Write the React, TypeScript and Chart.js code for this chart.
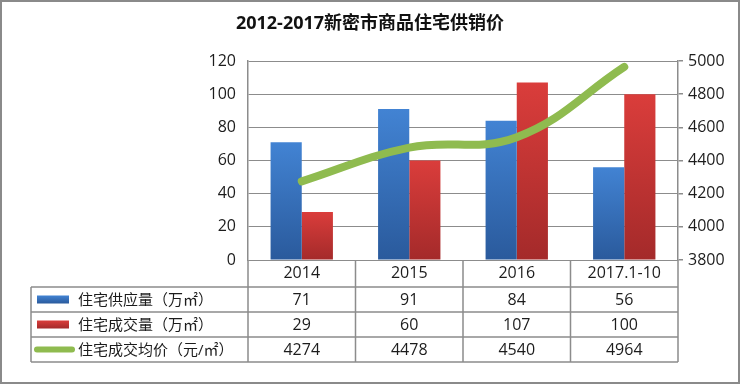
import React, { useEffect, useRef } from "react";
import { Chart, registerables } from "chart.js";

Chart.register(...registerables);

const TITLE = "2012-2017新密市商品住宅供销价";
const categories = ["2014", "2015", "2016", "2017.1-10"];
const supply = [71, 91, 84, 56];
const deals = [29, 60, 107, 100];
const price = [4274, 4478, 4540, 4964];
const seriesNames = ["住宅供应量（万㎡）", "住宅成交量（万㎡）", "住宅成交均价（元/㎡）"];

const FONT = '"Open Sans", "Noto Sans CJK SC", sans-serif';
const GRID = "#8c8c8c";
const TEXT = "#1c1c1c";
const BLUE_TOP = "#4283d3";
const BLUE_BOT = "#2a5a9c";
const RED_TOP = "#da3d3b";
const RED_BOT = "#a42a2a";
const GREEN = "#8fbb4f";

function barGradient(top: string, bot: string) {
  return (c: any) => {
    const chart = c.chart;
    const ys = chart.scales && chart.scales.y;
    if (!ys || c.raw === undefined || !chart.chartArea) return top;
    const y0 = ys.getPixelForValue(0);
    const y1 = ys.getPixelForValue(c.raw);
    if (!isFinite(y0) || !isFinite(y1) || y0 === y1) return top;
    const g = chart.ctx.createLinearGradient(0, y1, 0, y0);
    g.addColorStop(0, top);
    g.addColorStop(1, bot);
    return g;
  };
}

const tablePlugin = {
  id: "dataTable",
  afterDraw(chart: any) {
    const { ctx, chartArea, scales } = chart;
    const xs = scales.x;
    const left = chartArea.left;
    const right = chartArea.right;
    const headTop = chartArea.bottom;
    const headH = 27;
    const rowH = 25;
    const tableLeft = 31;
    const n = categories.length;
    const cw = (right - left) / n;
    const rowsTop = headTop + headH;
    const bottom = rowsTop + rowH * 3;

    ctx.save();
    ctx.strokeStyle = GRID;
    ctx.lineWidth = 1.5;
    ctx.beginPath();
    for (let r = 0; r <= 3; r++) {
      const y = rowsTop + r * rowH;
      ctx.moveTo(tableLeft, y);
      ctx.lineTo(right, y);
    }
    ctx.moveTo(tableLeft, rowsTop);
    ctx.lineTo(tableLeft, bottom);
    for (let i = 0; i <= n; i++) {
      const x = left + i * cw;
      ctx.moveTo(x, headTop);
      ctx.lineTo(x, bottom);
    }
    ctx.stroke();

    const rows = [supply, deals, price];
    ctx.fillStyle = TEXT;
    ctx.font = `16px ${FONT}`;
    ctx.textAlign = "center";
    ctx.textBaseline = "middle";
    rows.forEach((vals, r) => {
      const y = rowsTop + r * rowH + rowH / 2 + 1;
      vals.forEach((v, i) => {
        ctx.fillText(String(v), xs.getPixelForValue(i), y);
      });
    });

    ctx.textAlign = "left";
    ctx.font = `15px ${FONT}`;
    seriesNames.forEach((name, r) => {
      const yc = rowsTop + r * rowH + rowH / 2;
      if (r < 2) {
        const g = ctx.createLinearGradient(0, yc - 4, 0, yc + 4);
        g.addColorStop(0, r === 0 ? BLUE_TOP : RED_TOP);
        g.addColorStop(1, r === 0 ? BLUE_BOT : RED_BOT);
        ctx.fillStyle = g;
        ctx.fillRect(37, yc - 4, 32, 8);
      } else {
        ctx.strokeStyle = GREEN;
        ctx.lineWidth = 6;
        ctx.lineCap = "round";
        ctx.beginPath();
        ctx.moveTo(37, yc);
        ctx.lineTo(72, yc);
        ctx.stroke();
      }
      ctx.fillStyle = TEXT;
      ctx.fillText(name, 78, yc + 1);
    });

    ctx.strokeStyle = "#8a8a8a";
    ctx.lineWidth = 2;
    ctx.strokeRect(1, 1, chart.width - 2, chart.height - 2);
    ctx.restore();
  },
};

export default function App() {
  const ref = useRef<HTMLCanvasElement>(null);
  useEffect(() => {
    if (!ref.current) return;
    const chart = new Chart(ref.current, {
      type: "bar",
      data: {
        labels: categories,
        datasets: [
          {
            type: "line",
            label: seriesNames[2],
            data: price,
            yAxisID: "y1",
            borderColor: GREEN,
            backgroundColor: GREEN,
            borderWidth: 8,
            borderCapStyle: "round",
            borderJoinStyle: "round",
            pointRadius: 0,
            tension: 0.4,
            order: 0,
          } as any,
          {
            type: "bar",
            label: seriesNames[0],
            data: supply,
            yAxisID: "y",
            backgroundColor: barGradient(BLUE_TOP, BLUE_BOT),
            categoryPercentage: 0.58,
            barPercentage: 1,
            order: 1,
          },
          {
            type: "bar",
            label: seriesNames[1],
            data: deals,
            yAxisID: "y",
            backgroundColor: barGradient(RED_TOP, RED_BOT),
            categoryPercentage: 0.58,
            barPercentage: 1,
            order: 1,
          },
        ],
      },
      options: {
        responsive: false,
        animation: false,
        layout: { padding: { left: 0, right: 0, top: 0, bottom: 97 } },
        plugins: {
          legend: { display: false },
          tooltip: { enabled: false },
          title: {
            display: true,
            text: TITLE,
            color: "#111",
            font: { family: FONT, size: 18, weight: "bold", lineHeight: 1.2 },
            padding: { top: 13, bottom: 26.4 },
          },
        },
        scales: {
          x: {
            offset: true,
            grid: { display: false, drawTicks: false },
            border: { display: false },
            ticks: {
              color: TEXT,
              font: { family: FONT, size: 16 },
              padding: 4,
              maxRotation: 0,
              autoSkip: false,
            },
            afterFit: (s: any) => {
              s.height = 27;
            },
          },
          y: {
            position: "left",
            min: 0,
            max: 120,
            ticks: { stepSize: 20, color: TEXT, font: { family: FONT, size: 16 }, padding: 12 },
            grid: { color: GRID, lineWidth: 1, drawTicks: false },
            border: { display: true, color: GRID, width: 1.5 },
            afterFit: (s: any) => {
              s.width = 248;
            },
          },
          y1: {
            position: "right",
            min: 3800,
            max: 5000,
            ticks: {
              stepSize: 200,
              color: TEXT,
              font: { family: FONT, size: 16 },
              padding: 5,
              callback: (v: any) => String(v),
            },
            grid: { drawOnChartArea: false, drawTicks: true, tickLength: 5, color: GRID, lineWidth: 1.5 },
            border: { display: true, color: GRID, width: 1.5 },
            afterFit: (s: any) => {
              s.width = 62;
            },
          },
        },
      },
      plugins: [tablePlugin],
    });
    return () => chart.destroy();
  }, []);

  return (
    <div style={{ position: "absolute", left: 0, top: 0, width: 740, height: 384, background: "#fff" }}>
      <canvas ref={ref} width={740} height={384} style={{ display: "block", width: 740, height: 384 }} />
    </div>
  );
}
